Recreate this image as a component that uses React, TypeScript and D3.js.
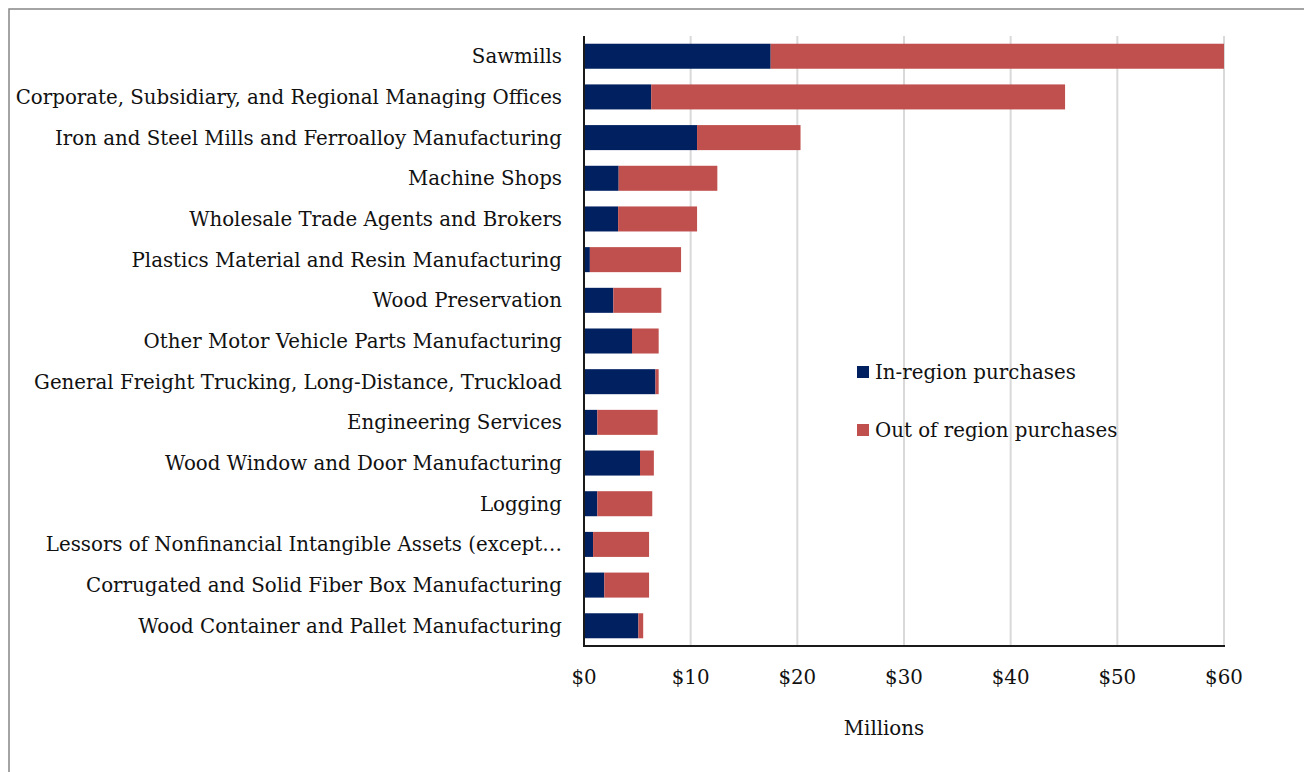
import React, { useEffect, useRef } from "react";
import * as d3 from "d3";

const categories = [
  "Sawmills",
  "Corporate, Subsidiary, and Regional Managing Offices",
  "Iron and Steel Mills and Ferroalloy Manufacturing",
  "Machine Shops",
  "Wholesale Trade Agents and Brokers",
  "Plastics Material and Resin Manufacturing",
  "Wood Preservation",
  "Other Motor Vehicle Parts Manufacturing",
  "General Freight Trucking, Long-Distance, Truckload",
  "Engineering Services",
  "Wood Window and Door Manufacturing",
  "Logging",
  "Lessors of Nonfinancial Intangible Assets (except…",
  "Corrugated and Solid Fiber Box Manufacturing",
  "Wood Container and Pallet Manufacturing",
];
const inRegion = [17.5, 6.3, 10.6, 3.25, 3.2, 0.55, 2.75, 4.5, 6.7, 1.25, 5.25, 1.25, 0.85, 1.9, 5.1];
const outRegion = [42.5, 38.8, 9.7, 9.25, 7.4, 8.55, 4.5, 2.5, 0.3, 5.65, 1.3, 5.15, 5.25, 4.2, 0.45];
const xTicks = [0, 10, 20, 30, 40, 50, 60];
const seriesNames = ["In-region purchases", "Out of region purchases"];
const colors = ["#002060", "#C0504D"];

const FONT = "'DejaVu Serif', serif";
const FS = 19.8;

export default function App() {
  const ref = useRef<SVGSVGElement | null>(null);
  useEffect(() => {
    const svg = d3.select(ref.current);
    svg.selectAll("*").remove();
    const left = 584, right = 1224, top = 36, bottom = 646;
    const x = d3.scaleLinear().domain([0, 60]).range([left, right]);
    const y = d3.scaleBand().domain(categories).range([top, bottom]).paddingInner(0.385).paddingOuter(0.19);

    // frame
    svg.append("rect").attr("x", 9).attr("y", 9).attr("width", 1400).attr("height", 900)
      .attr("fill", "white").attr("stroke", "#878787").attr("stroke-width", 1.5);

    // gridlines
    svg.append("g").selectAll("line").data(xTicks.slice(1)).join("line")
      .attr("x1", d => x(d)).attr("x2", d => x(d)).attr("y1", top).attr("y2", bottom)
      .attr("stroke", "#d9d9d9").attr("stroke-width", 2);

    const stack = d3.stack<number>().keys(["0", "1"]).value((i, k) => (k === "0" ? inRegion[i] : outRegion[i]));
    const series = stack(categories.map((_, i) => i));
    series.forEach((s, si) => {
      svg.append("g").selectAll("rect").data(s).join("rect")
        .attr("x", d => x(d[0])).attr("width", d => x(d[1]) - x(d[0]))
        .attr("y", (d) => y(categories[d.data])!).attr("height", y.bandwidth())
        .attr("fill", colors[si]);
    });

    // axes lines
    svg.append("line").attr("x1", left).attr("x2", left).attr("y1", top).attr("y2", bottom)
      .attr("stroke", "#1a1a1a").attr("stroke-width", 2);
    svg.append("line").attr("x1", left - 1).attr("x2", right + 1).attr("y1", bottom).attr("y2", bottom)
      .attr("stroke", "#1a1a1a").attr("stroke-width", 2);

    // category labels
    svg.append("g").selectAll("text").data(categories).join("text")
      .attr("x", 562).attr("y", d => y(d)! + y.bandwidth() / 2)
      .attr("dy", "0.35em").attr("text-anchor", "end")
      .attr("font-family", FONT).attr("font-size", FS).attr("fill", "#111")
      .text(d => d);

    // tick labels
    svg.append("g").selectAll("text").data(xTicks).join("text")
      .attr("x", d => x(d)).attr("y", 684).attr("text-anchor", "middle")
      .attr("font-family", FONT).attr("font-size", FS).attr("fill", "#111")
      .text(d => "$" + d);

    svg.append("text").attr("x", 884).attr("y", 735).attr("text-anchor", "middle")
      .attr("font-family", FONT).attr("font-size", FS).attr("fill", "#111").text("Millions");

    // legend
    const lg = svg.append("g");
    seriesNames.forEach((n, i) => {
      const ly = 372 + i * 58;
      lg.append("rect").attr("x", 857).attr("y", ly - 6).attr("width", 12).attr("height", 12).attr("fill", colors[i]);
      lg.append("text").attr("x", 875).attr("y", ly).attr("dy", "0.35em")
        .attr("font-family", FONT).attr("font-size", FS).attr("fill", "#111").text(n);
    });
  }, []);
  return (
    <svg ref={ref} width={1304} height={772} style={{ position: "absolute", left: 0, top: 0, background: "white" }} />
  );
}
